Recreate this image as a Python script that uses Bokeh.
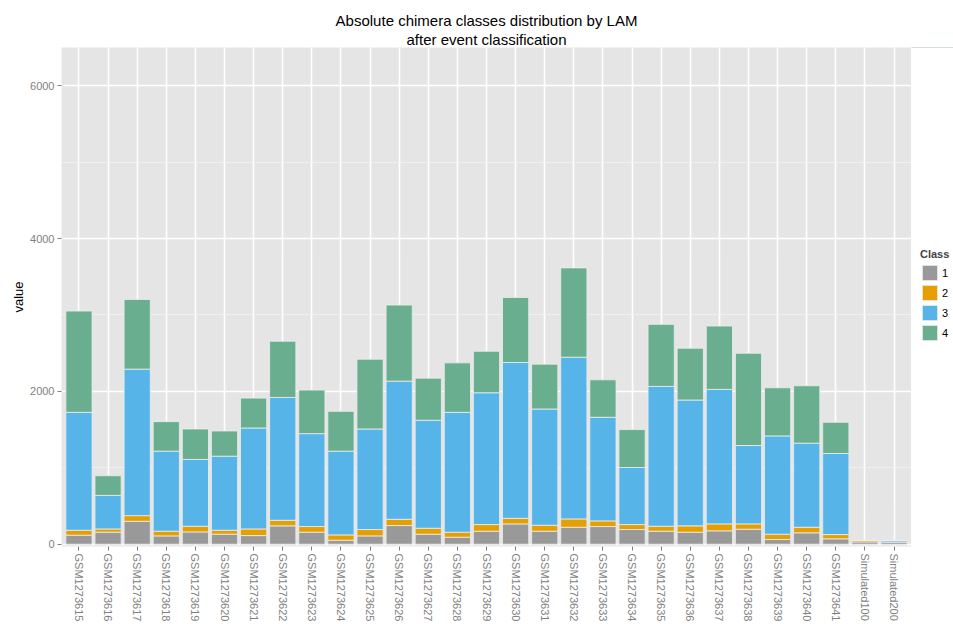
from bokeh.plotting import figure
from bokeh.layouts import row
from bokeh.models import (FactorRange, Range1d, FixedTicker, Legend, LegendItem,
                          ColumnDataSource, Title)
from bokeh.embed import file_html
from bokeh.resources import INLINE

samples = ["GSM1273615", "GSM1273616", "GSM1273617", "GSM1273618", "GSM1273619",
           "GSM1273620", "GSM1273621", "GSM1273622", "GSM1273623", "GSM1273624",
           "GSM1273625", "GSM1273626", "GSM1273627", "GSM1273628", "GSM1273629",
           "GSM1273630", "GSM1273631", "GSM1273632", "GSM1273633", "GSM1273634",
           "GSM1273635", "GSM1273636", "GSM1273637", "GSM1273638", "GSM1273639",
           "GSM1273640", "GSM1273641", "Simulated100", "Simulated200"]

class1 = [118, 157, 300, 109, 161, 131, 113, 240, 157, 52, 109, 244, 131, 91, 170,
          266, 170, 222, 231, 192, 170, 157, 175, 196, 61, 149, 70, 30, 30]
class2 = [65, 43, 74, 61, 74, 52, 87, 73, 74, 70, 83, 82, 78, 66, 87,
          73, 78, 109, 74, 65, 65, 83, 91, 70, 70, 73, 56, 20, 0]
class3 = [1543, 439, 1917, 1048, 874, 969, 1321, 1608, 1216, 1096, 1316, 1808, 1413, 1569, 1725,
          2039, 1521, 2116, 1356, 747, 1830, 1647, 1760, 1025, 1286, 1100, 1061, 0, 20]
class4 = [1325, 257, 912, 386, 399, 330, 391, 735, 570, 521, 913, 995, 551, 647, 543,
          851, 587, 1169, 490, 496, 812, 678, 829, 1208, 630, 751, 409, 0, 0]

class_names = ["1", "2", "3", "4"]
class_colors = ["#999999", "#E69F00", "#56B4E9", "#68AE8F"]
y_ticks = [0, 2000, 4000, 6000]
y_minor = [1000, 3000, 5000]
title_lines = ["Absolute chimera classes distribution by LAM", "after event classification"]

FONT = "Liberation Sans"
OUTLINE = "#EDEDED"

source = ColumnDataSource(dict(sample=samples, c1=class1, c2=class2, c3=class3, c4=class4))
stack_cols = ["c1", "c2", "c3", "c4"]

p = figure(width=911, height=624, output_backend="svg", toolbar_location=None,
           x_range=FactorRange(factors=samples, range_padding=0.1,
                               range_padding_units="absolute"),
           y_range=Range1d(-30, 6500),
           min_border_left=61, min_border_right=0, min_border_top=47,
           min_border_bottom=76)

p.title = None
for line in reversed(title_lines):
    t = Title(text=line, align="center", text_font=FONT, text_font_size="15px",
              text_font_style="normal", text_color="#000000", standoff=0, offset=0)
    p.add_layout(t, "above")

p.background_fill_color = "#E5E5E5"
p.border_fill_color = "#FFFFFF"
p.outline_line_color = None

p.vbar_stack(stack_cols, x="sample", width=0.9, source=source,
             fill_color=class_colors, line_color=OUTLINE, line_width=0.8)

# grids
p.xgrid.grid_line_color = "#FFFFFF"
p.xgrid.grid_line_width = 1.6
p.ygrid.grid_line_color = "#FFFFFF"
p.ygrid.grid_line_width = 1.6
p.ygrid.minor_grid_line_color = "#F2F2F2"
p.ygrid.minor_grid_line_width = 0.8
p.yaxis.ticker = FixedTicker(ticks=y_ticks, minor_ticks=y_minor)

for ax in (p.xaxis[0], p.yaxis[0]):
    ax.axis_line_color = None
    ax.major_tick_line_color = "#7F7F7F"
    ax.major_tick_in = 0
    ax.major_tick_out = 4
    ax.minor_tick_line_color = None
    ax.major_label_text_font = FONT
    ax.major_label_text_font_size = "11px"
    ax.major_label_text_color = "#7F7F7F"
    ax.major_label_standoff = 3

p.xaxis.major_label_orientation = "vertical"
p.yaxis.axis_label = "value"
p.yaxis.axis_label_text_font = FONT
p.yaxis.axis_label_text_font_size = "13px"
p.yaxis.axis_label_text_font_style = "normal"
p.yaxis.axis_label_text_color = "#000000"
p.yaxis.axis_label_standoff = 1

# legend panel: narrow figure whose view range excludes the bars, showing keys only
pl = figure(width=42, height=624, output_backend="svg", toolbar_location=None,
            x_axis_type=None, y_axis_type=None, min_border=0,
            x_range=FactorRange(factors=samples), y_range=Range1d(-2, -1))
pl.outline_line_color = None
pl.background_fill_color = "#FFFFFF"
pl.border_fill_color = "#FFFFFF"
pl.grid.visible = False
key_renderers = pl.vbar_stack(stack_cols, x="sample", width=0.9, source=source,
                              fill_color=class_colors, line_color=OUTLINE,
                              line_width=0.8)
items = [LegendItem(label=n, renderers=[r]) for n, r in zip(class_names, key_renderers)]
legend = Legend(items=items, location=(9, 204), title="Class",
                title_text_font=FONT, title_text_font_size="11px",
                title_text_font_style="bold", title_standoff=3,
                label_text_font=FONT, label_text_font_size="11px",
                label_text_color="#000000", glyph_width=19, glyph_height=19,
                label_standoff=3, spacing=1, padding=0, margin=0,
                border_line_color=None, background_fill_alpha=0)
pl.add_layout(legend, "center")

layout = row(p, pl, spacing=0)
open("out.html", "w").write(file_html(layout, INLINE))
